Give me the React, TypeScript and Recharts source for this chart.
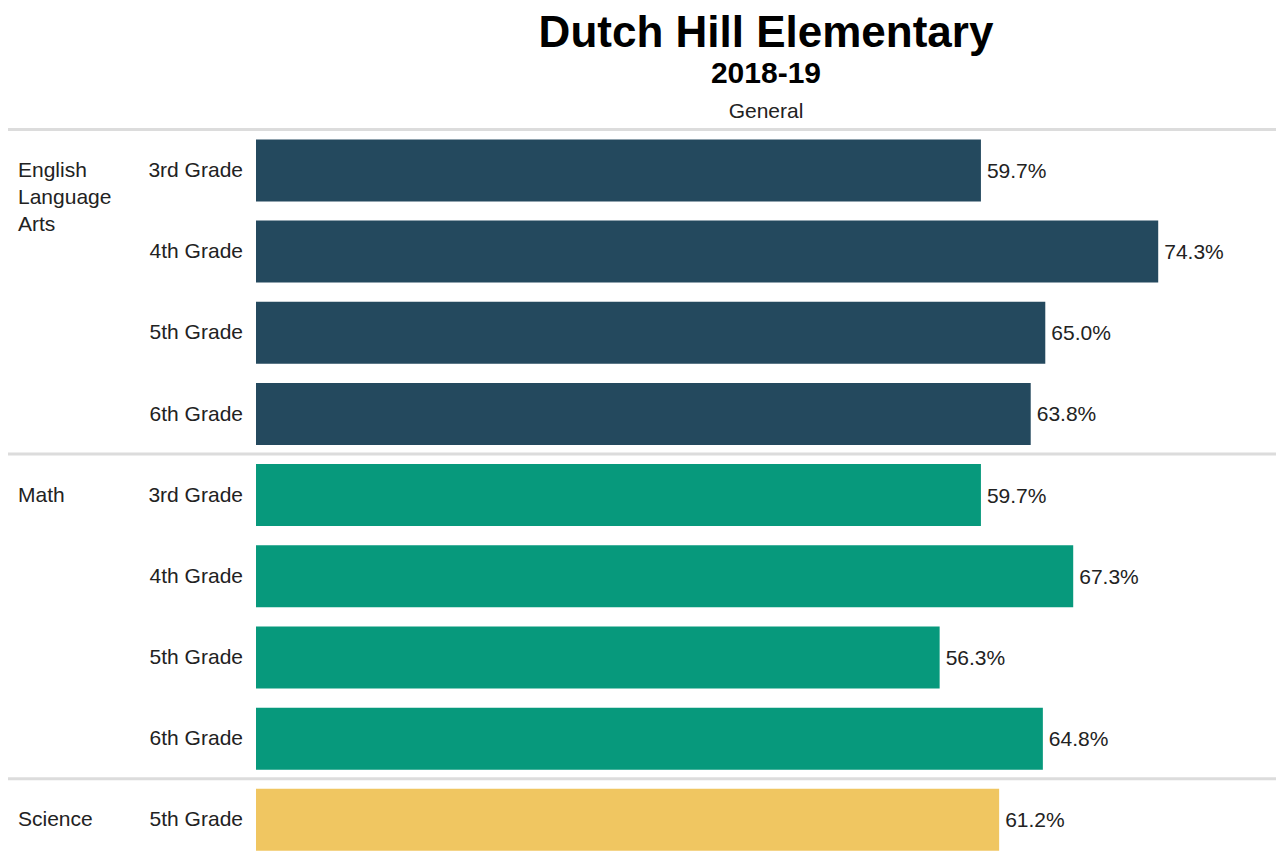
import React from 'react'
import { BarChart, Bar, XAxis, YAxis, Cell, LabelList, ReferenceLine } from 'recharts'

// subject groups, grade rows and their scores (percent)
const subjects = ['English Language Arts', 'Math', 'Science']
const grades = ['3rd Grade', '4th Grade', '5th Grade', '6th Grade', '3rd Grade', '4th Grade', '5th Grade', '6th Grade', '5th Grade']
const rowSubjects = [0, 0, 0, 0, 1, 1, 1, 1, 2]
const scores = [59.7, 74.3, 65.0, 63.8, 59.7, 67.3, 56.3, 64.8, 61.2]

const subjectColors = ['#24495e', '#07997c', '#f0c661']
const subjectLabelLines = [['English', 'Language', 'Arts'], ['Math'], ['Science']]

const FONT = '"Liberation Sans", Arial, Helvetica, sans-serif'
const TEXT = '#222'

const data = grades.map((grade, i) => ({
    id: `${subjects[rowSubjects[i]]}|${i}`,
    grade,
    subject: rowSubjects[i],
    first: i === 0 || rowSubjects[i - 1] !== rowSubjects[i],
    score: scores[i],
}))

function GradeTick(props: any) {
    const { y, payload } = props
    const row = data.find(d => d.id === payload.value)
    if (!row) return null
    return (
        <g>
            <text x={243} y={y} dy={7} textAnchor="end" fontSize={21} fill={TEXT} fontFamily={FONT}>
                {row.grade}
            </text>
            {row.first && (
                <text x={18} y={y} fontSize={21} fill={TEXT} fontFamily={FONT}>
                    {subjectLabelLines[row.subject].map((line, k) => (
                        <tspan key={k} x={18} dy={k === 0 ? 7 : 27}>{line}</tspan>
                    ))}
                </text>
            )}
        </g>
    )
}

function SeparatorLine(props: any) {
    const { x2, y1 } = props
    return <line x1={8} x2={x2} y1={y1} y2={y1} stroke="#dcdcdc" strokeWidth={3} />
}

export default function App() {
    const firstRows = data.filter(d => d.first)
    return (
        <div style={{ position: 'absolute', left: 0, top: 0, width: 1278, height: 856, overflow: 'hidden', background: '#fff', fontFamily: FONT }}>
            <div style={{ position: 'absolute', left: 266, width: 1000, top: 7, textAlign: 'center', fontSize: 44, fontWeight: 'bold', color: '#000', lineHeight: '50px' }}>
                Dutch Hill Elementary
            </div>
            <div style={{ position: 'absolute', left: 266, width: 1000, top: 55, textAlign: 'center', fontSize: 30, fontWeight: 'bold', color: '#000', lineHeight: '36px' }}>
                2018-19
            </div>
            <div style={{ position: 'absolute', left: 266, width: 1000, top: 98, textAlign: 'center', fontSize: 21, color: TEXT, lineHeight: '26px' }}>
                General
            </div>
            <div style={{ position: 'absolute', left: 0, top: 0 }}>
                <BarChart
                    width={1278}
                    height={860}
                    data={data}
                    layout="vertical"
                    margin={{ top: 129.4, right: 2, bottom: 0, left: 8 }}
                >
                    <XAxis type="number" domain={[0, 84]} hide />
                    <YAxis
                        type="category"
                        dataKey="id"
                        width={248}
                        axisLine={false}
                        tickLine={false}
                        interval={0}
                        tick={<GradeTick />}
                    />
                    {firstRows.map(r => (
                        <ReferenceLine
                            key={r.id}
                            y={r.id}
                            position="start"
                            ifOverflow="visible"
                            shape={<SeparatorLine />}
                        />
                    ))}
                    <Bar dataKey="score" barSize={62} isAnimationActive={false}>
                        {data.map(d => (
                            <Cell key={d.id} fill={subjectColors[d.subject]} />
                        ))}
                        <LabelList
                            dataKey="score"
                            position="right"
                            offset={6}
                            fontSize={21}
                            fill={TEXT}
                            fontFamily={FONT}
                            formatter={(v: any) => `${Number(v).toFixed(1)}%`}
                        />
                    </Bar>
                </BarChart>
            </div>
        </div>
    )
}
